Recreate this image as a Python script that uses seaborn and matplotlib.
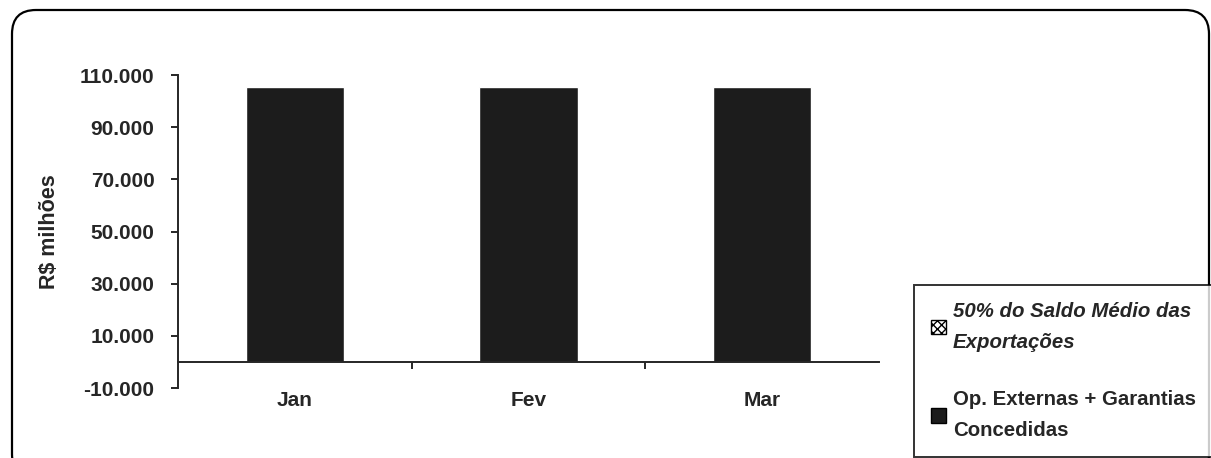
# Barras mensais - Op. Externas + Garantias Concedidas

import seaborn as sns
import matplotlib.pyplot as plt
import pandas as pd
from matplotlib.patches import FancyBboxPatch, Patch

meses = ["Jan", "Fev", "Mar"]
op_externas = [105300, 105400, 105400]

serie_saldo = "50% do Saldo Médio das\nExportações"
serie_op = "Op. Externas + Garantias\nConcedidas"

y_ticks = [-10000, 10000, 30000, 50000, 70000, 90000, 110000]
y_labels = ["-10.000", "10.000", "30.000", "50.000", "70.000", "90.000", "110.000"]

df = pd.DataFrame({"mes": meses, "valor": op_externas})

sns.set_style("white")
plt.rcParams["font.family"] = ["Liberation Sans", "DejaVu Sans"]

fig = plt.figure(figsize=(12.11, 4.58), dpi=100)
ax = fig.add_axes([0.147, 0.1528, 0.5788, 0.6834])

sns.barplot(data=df, x="mes", y="valor", color="#1c1c1c", saturation=1,
            width=0.42, ax=ax)

ax.set_xlim(-0.5, 2.5)
ax.set_ylim(-10000, 110000)
ax.set_yticks(y_ticks)
ax.set_yticklabels(y_labels)
ax.set_xlabel("")
ax.set_ylabel("R$ milhões", fontsize=15.5, fontweight="bold", labelpad=14)

for s in ["top", "right"]:
    ax.spines[s].set_visible(False)
ax.spines["left"].set_linewidth(1.4)
ax.spines["bottom"].set_linewidth(1.4)
ax.spines["bottom"].set_position(("data", 0))

ax.tick_params(axis="y", direction="out", length=5, width=1.4, pad=12,
               labelsize=15, left=True)
ax.tick_params(axis="x", which="major", length=0, pad=21, labelsize=15)
ax.set_xticks([0.5, 1.5], minor=True)
ax.tick_params(axis="x", which="minor", direction="out", length=5, width=1.4,
               bottom=True)
for lab in ax.get_xticklabels() + ax.get_yticklabels():
    lab.set_fontweight("bold")

handles = [
    Patch(facecolor="white", edgecolor="black", hatch="xxxx", label=serie_saldo),
    Patch(facecolor="#1c1c1c", edgecolor="black", label=serie_op),
]
leg = fig.legend(handles=handles, loc="upper left",
                 bbox_to_anchor=(914 / 1211, 1 - 285 / 458),
                 frameon=True, fancybox=False, edgecolor="black",
                 borderaxespad=0, borderpad=0.85, handlelength=0.7,
                 handleheight=0.7, handletextpad=0.35, labelspacing=1.9,
                 prop={"size": 14.7, "weight": "bold"})
leg.get_frame().set_linewidth(1.4)
for t in leg.get_texts():
    t.set_linespacing(1.75)
leg.get_texts()[0].set_style("italic")

# moldura arredondada
frame = FancyBboxPatch((12, -20), 1197, 458 - 10 + 20,
                       boxstyle="round,pad=0,rounding_size=24",
                       transform=None, fill=False, edgecolor="black",
                       linewidth=1.6)
fig.patches.append(frame)

fig.savefig("out.png", dpi=100)
